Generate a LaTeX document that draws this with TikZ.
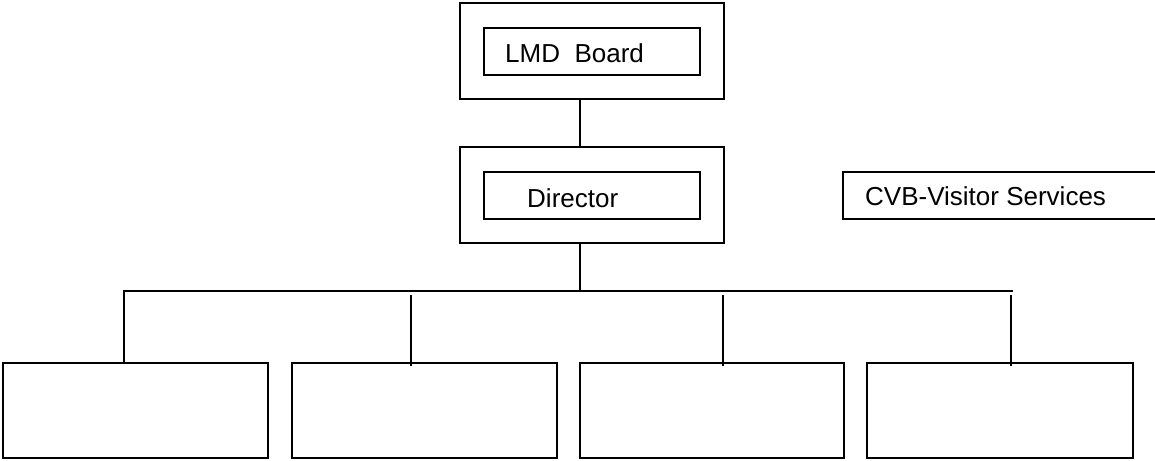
\documentclass[tikz,border=0pt]{standalone}
\usepackage{fontspec}
\setmainfont{Liberation Sans}
\begin{document}
\begin{tikzpicture}[x=1pt,y=-1pt,
  box/.style={draw=black, line width=1.5pt, rectangle, inner sep=0pt, minimum width=#1},
  lbl/.style={anchor=base west, inner sep=0pt, font=\fontsize{26}{30}\selectfont},
  conn/.style={draw=black, line width=1.5pt}]
\useasboundingbox (0,0) rectangle (1155,460);
% top
\node[box=264pt, minimum height=96pt] (lmdo) at (592,51) {};
\node[box=216pt, minimum height=47pt] (lmdi) at (592,51.5) {};
\node[lbl] (lmdt) at (505,63) {LMD\ \ Board};
% director
\node[box=264pt, minimum height=96pt] (diro) at (592,195) {};
\node[box=216pt, minimum height=47pt] (diri) at (592,195.5) {};
\node[lbl] (dirt) at (527,207) {Director};
% CVB
\node[box=330pt, minimum height=47pt] (cvb) at (1008,195.5) {};
\node[lbl] (cvbt) at (865,205) {CVB-Visitor Services};
% bottom boxes
\node[box=265pt, minimum height=95pt] (b1) at (135.5,410.5) {};
\node[box=265pt, minimum height=95pt] (b2) at (424.5,410.5) {};
\node[box=264pt, minimum height=95pt] (b3) at (712,410.5) {};
\node[box=266pt, minimum height=95pt] (b4) at (1000,410.5) {};
% connectors
\coordinate (c1) at (580,0);
\coordinate (bus) at (0,291);
\coordinate (d1) at (124,291);
\coordinate (busend) at (1013,291);
\coordinate (d2) at (411,295);
\coordinate (d3) at (723,295);
\coordinate (d4) at (1011,295);
\draw[conn] (lmdo.south -| c1) -- (diro.north -| c1);
\draw[conn] (diro.south -| c1) -- (c1 |- bus);
\draw[conn] (b1.north -| d1) -- (d1) -- (busend);
\draw[conn] (d2) -- ([yshift=-4pt]b2.north -| d2);
\draw[conn] (d3) -- ([yshift=-4pt]b3.north -| d3);
\draw[conn] (d4) -- ([yshift=-4pt]b4.north -| d4);
\end{tikzpicture}
\end{document}
